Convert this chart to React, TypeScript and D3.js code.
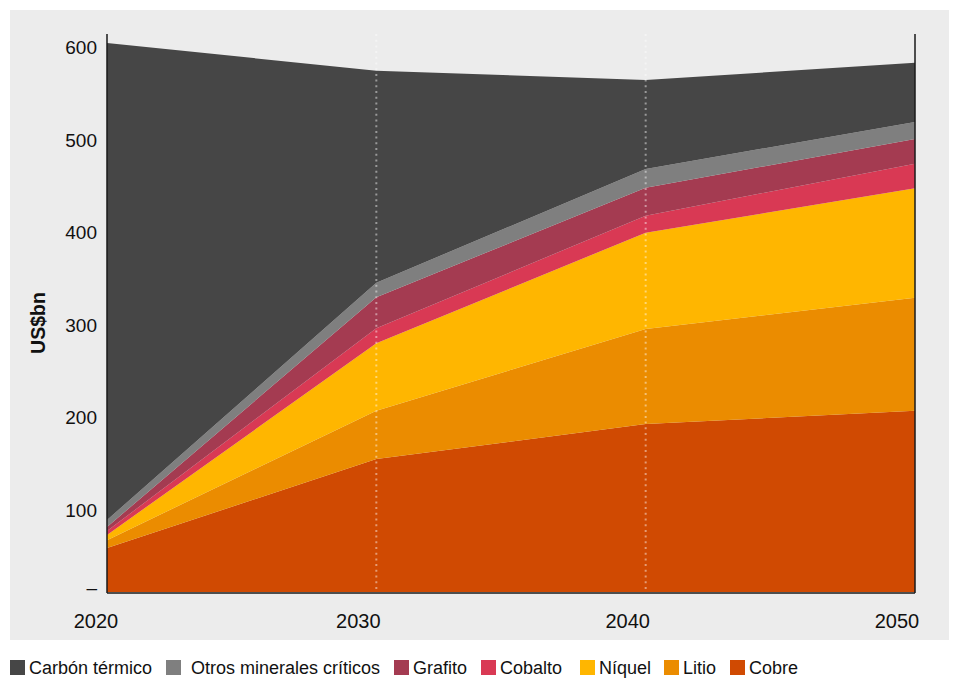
import React from "react";
import * as d3 from "d3";

// Years on the horizontal axis
const years = [2020, 2030, 2040, 2050];

// Series values in US$bn, bottom of the stack first
const cobre = [47.5, 143.6, 181.4, 195.8];
const litio = [8.5, 52.2, 102.6, 122];
const niquel = [5.6, 72.8, 104, 118.2];
const cobalto = [4.3, 16.2, 18.4, 26.5];
const grafito = [4.3, 33.5, 30.2, 26.7];
const otros = [7.6, 15.7, 20.2, 18.4];
const carbon = [515, 229, 96, 64];

const seriesNames = ["Cobre", "Litio", "Níquel", "Cobalto", "Grafito", "Otros minerales críticos", "Carbón térmico"];
const seriesValues = [cobre, litio, niquel, cobalto, grafito, otros, carbon];
const seriesColors = ["#d04a02", "#eb8c00", "#ffb600", "#d93954", "#a43b51", "#7f7f7f", "#464646"];

// Legend runs from the top layer down
const legendOrder = ["Carbón térmico", "Otros minerales críticos", "Grafito", "Cobalto", "Níquel", "Litio", "Cobre"];
const legendX = [10, 166, 394, 481, 580, 664, 730];

const yTicks = [0, 100, 200, 300, 400, 500, 600];
const gridYears = [2030, 2040];

const W = 959;
const H = 678;
const plot = { left: 107, right: 915, top: 34, bottom: 592 };
const FONT = "'Liberation Sans', Arial, Helvetica, sans-serif";

export default function App() {
  const x = d3.scaleLinear().domain([2020, 2050]).range([plot.left, plot.right]);
  const y = d3.scaleLinear().domain([0, 600]).range([plot.bottom, plot.bottom - 555.6]);

  const table = years.map((yr, i) => {
    const row: Record<string, number> = { year: yr };
    seriesNames.forEach((n, k) => (row[n] = seriesValues[k][i]));
    return row;
  });
  const stacked = d3.stack<Record<string, number>>().keys(seriesNames)(table);
  const area = d3
    .area<d3.SeriesPoint<Record<string, number>>>()
    .x((d) => x(d.data.year))
    .y0((d) => y(d[0]))
    .y1((d) => y(d[1]));

  const colorOf = (name: string) => seriesColors[seriesNames.indexOf(name)];

  return (
    <svg
      width={W}
      height={H}
      style={{ position: "absolute", left: 0, top: 0, background: "#ffffff" }}
      fontFamily={FONT}
    >
      <rect x={10} y={10} width={939} height={630} fill="#ececec" />

      {stacked.map((s) => (
        <path key={s.key} d={area(s) ?? ""} fill={colorOf(s.key)} />
      ))}

      {gridYears.map((g) => (
        <line
          key={g}
          x1={x(g)}
          x2={x(g)}
          y1={plot.top}
          y2={plot.bottom}
          stroke="#ffffff"
          strokeOpacity={0.45}
          strokeWidth={2}
          strokeDasharray="2,3.7"
        />
      ))}

      {/* axis frame */}
      <line x1={plot.left} x2={plot.left} y1={plot.top} y2={plot.bottom + 1} stroke="#1a1a1a" strokeWidth={1.5} />
      <line x1={plot.right} x2={plot.right} y1={plot.top} y2={plot.bottom + 1} stroke="#1a1a1a" strokeWidth={1.5} />
      <line x1={plot.left} x2={plot.right} y1={plot.bottom + 1} y2={plot.bottom + 1} stroke="#1a1a1a" strokeWidth={1.5} />

      {yTicks.map((t) => (
        <text
          key={t}
          x={97}
          y={t === 0 ? y(t) - 5 : y(t) + 11}
          textAnchor="end"
          dominantBaseline="central"
          fontSize={19}
          fill="#111"
        >
          {t === 0 ? "–" : t}
        </text>
      ))}

      {years.map((yr, i) => (
        <text
          key={yr}
          x={x(yr) - (i === 0 ? 11 : 18)}
          y={621}
          textAnchor="middle"
          dominantBaseline="central"
          fontSize={20}
          fill="#111"
        >
          {yr}
        </text>
      ))}

      <text
        transform={`translate(38, 323) rotate(-90)`}
        textAnchor="middle"
        dominantBaseline="central"
        fontSize={19.5}
        fontWeight="bold"
        fill="#111"
      >
        US$bn
      </text>

      {legendOrder.map((name, i) => (
        <g key={name} transform={`translate(${legendX[i]}, 660)`}>
          <rect x={0} y={0} width={15} height={15} fill={colorOf(name)} />
          <text x={i === 1 ? 25 : 19} y={8} dominantBaseline="central" fontSize={18} fill="#111">
            {name}
          </text>
        </g>
      ))}
    </svg>
  );
}
